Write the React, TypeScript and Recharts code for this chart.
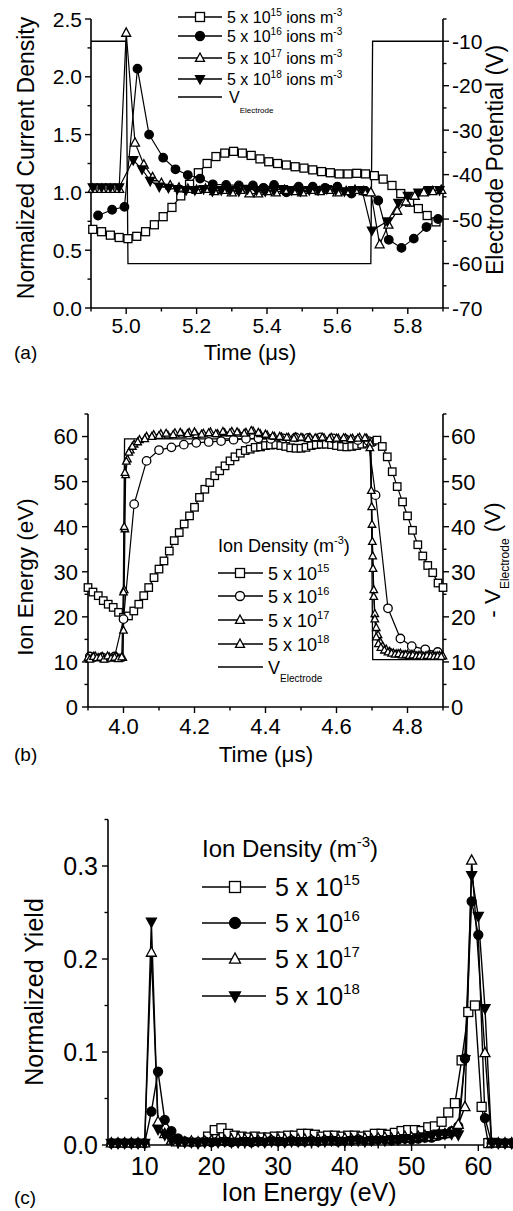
import React from "react";
import { ComposedChart, Line, XAxis, YAxis, Legend } from "recharts";

const FONT = "'Liberation Sans', Arial, Helvetica, sans-serif";

// ---------- panel (a): normalized current density vs time ----------
const tA15 = [4.905, 4.93, 4.955, 4.98, 5.005, 5.03, 5.055, 5.08, 5.105, 5.13, 5.155, 5.18, 5.205, 5.23, 5.255, 5.28, 5.305, 5.33, 5.355, 5.38, 5.405, 5.43, 5.455, 5.48, 5.505, 5.53, 5.555, 5.58, 5.605, 5.63, 5.655, 5.68, 5.705, 5.73, 5.755, 5.78, 5.805, 5.83, 5.855, 5.88];
const jA15 = [0.68, 0.66, 0.63, 0.61, 0.6, 0.62, 0.66, 0.72, 0.79, 0.87, 0.97, 1.07, 1.17, 1.25, 1.31, 1.34, 1.355, 1.34, 1.32, 1.29, 1.265, 1.25, 1.237, 1.222, 1.21, 1.195, 1.18, 1.17, 1.16, 1.16, 1.165, 1.16, 1.145, 1.115, 1.06, 0.99, 0.915, 0.86, 0.8, 0.745];

const tA16 = [4.92, 4.96, 4.995, 5.032, 5.065, 5.105, 5.14, 5.175, 5.21, 5.246, 5.284, 5.32, 5.36, 5.39, 5.42, 5.455, 5.49, 5.53, 5.565, 5.6, 5.64, 5.68, 5.716, 5.746, 5.782, 5.817, 5.853, 5.886];
const jA16 = [0.8, 0.85, 0.875, 2.07, 1.5, 1.3, 1.2, 1.15, 1.12, 1.07, 1.065, 1.06, 1.06, 1.04, 1.065, 1.0, 1.05, 1.05, 1.04, 1.05, 0.99, 1.01, 0.93, 0.59, 0.52, 0.6, 0.7, 0.77];

const tA17 = [4.905, 4.93, 4.955, 4.98, 5.0, 5.025, 5.05, 5.075, 5.1, 5.125, 5.15, 5.175, 5.2, 5.225, 5.25, 5.275, 5.3, 5.325, 5.35, 5.375, 5.4, 5.425, 5.45, 5.475, 5.5, 5.525, 5.55, 5.575, 5.6, 5.625, 5.65, 5.675, 5.695, 5.72, 5.745, 5.77, 5.795, 5.82, 5.845, 5.87, 5.895];
const jA17 = [1.03, 1.03, 1.03, 1.03, 2.38, 1.43, 1.24, 1.13, 1.08, 1.06, 1.04, 1.03, 1.02, 1.03, 1.01, 1.02, 1.0, 1.02, 0.99, 0.99, 1.01, 1.0, 1.02, 1.01, 1.0, 1.02, 1.01, 1.02, 1.0, 1.01, 1.02, 1.01, 1.0, 0.55, 0.72, 0.84, 0.92, 0.97, 1.0, 1.01, 1.02];

const tA18 = [4.905, 4.93, 4.955, 4.98, 5.02, 5.045, 5.068, 5.094, 5.12, 5.145, 5.17, 5.195, 5.22, 5.245, 5.27, 5.295, 5.32, 5.345, 5.37, 5.395, 5.42, 5.445, 5.47, 5.495, 5.52, 5.545, 5.57, 5.595, 5.62, 5.645, 5.67, 5.698, 5.742, 5.773, 5.8, 5.83, 5.86, 5.89];
const jA18 = [1.045, 1.045, 1.045, 1.045, 1.28, 1.2, 1.1, 1.05, 1.04, 1.03, 1.02, 1.02, 1.03, 1.01, 1.02, 1.02, 1.01, 1.03, 1.02, 1.01, 1.02, 1.03, 1.02, 1.01, 1.02, 1.02, 1.03, 1.02, 1.01, 1.02, 1.02, 0.67, 0.75, 0.91, 0.97, 1.0, 1.02, 1.02];

const tAV = [4.9, 5.0, 5.005, 5.695, 5.7, 5.9];
const vAV = [-10, -10, -60, -60, -10, -10];

const ticksAx = [4.9, 5.0, 5.1, 5.2, 5.3, 5.4, 5.5, 5.6, 5.7, 5.8, 5.9];
const majorAx = [5.0, 5.2, 5.4, 5.6, 5.8];
const ticksAl = [0, 0.25, 0.5, 0.75, 1.0, 1.25, 1.5, 1.75, 2.0, 2.25, 2.5];
const majorAl = [0, 0.5, 1.0, 1.5, 2.0, 2.5];
const ticksAr = [-70, -65, -60, -55, -50, -45, -40, -35, -30, -25, -20, -15, -10, -5];
const majorAr = [-70, -60, -50, -40, -30, -20, -10];

// ---------- panel (b): ion energy vs time ----------
const tB15 = [3.9, 3.914, 3.929, 3.943, 3.957, 3.971, 3.986, 4.0, 4.014, 4.029, 4.043, 4.057, 4.071, 4.086, 4.1, 4.114, 4.129, 4.143, 4.157, 4.171, 4.186, 4.2, 4.214, 4.229, 4.243, 4.257, 4.271, 4.286, 4.3, 4.314, 4.329, 4.343, 4.357, 4.371, 4.386, 4.4, 4.414, 4.429, 4.443, 4.457, 4.471, 4.486, 4.5, 4.514, 4.529, 4.543, 4.557, 4.571, 4.586, 4.6, 4.614, 4.629, 4.643, 4.657, 4.671, 4.686, 4.7, 4.714, 4.729, 4.743, 4.757, 4.771, 4.786, 4.8, 4.814, 4.829, 4.843, 4.857, 4.871, 4.886, 4.9];
const eB15 = [26.5, 25.5, 24.7, 23.6, 22.8, 22.1, 21.0, 19.9, 20.2, 21.3, 22.8, 24.7, 26.5, 28.7, 30.6, 32.4, 34.6, 36.9, 38.7, 40.6, 42.4, 44.3, 46.5, 48.3, 49.8, 51.3, 52.4, 53.5, 54.6, 55.5, 56.3, 56.9, 57.2, 57.6, 57.7, 58.0, 58.1, 58.2, 58.0, 57.8, 57.5, 57.4, 57.4, 57.6, 58.0, 58.2, 58.3, 58.3, 58.2, 58.0, 57.8, 57.7, 57.8, 58.0, 58.3, 58.5, 58.9, 59.2, 57.8, 55.5, 52.2, 48.9, 45.5, 42.4, 39.2, 36.0, 33.5, 31.4, 29.8, 27.5, 26.5];

const tB16 = [3.905, 3.94, 3.975, 4.0, 4.03, 4.065, 4.1, 4.135, 4.17, 4.205, 4.24, 4.275, 4.31, 4.345, 4.38, 4.415, 4.45, 4.485, 4.52, 4.555, 4.59, 4.625, 4.66, 4.69, 4.71, 4.745, 4.78, 4.812, 4.85, 4.885];
const eB16 = [11.2, 11.0, 11.2, 19.5, 45.0, 54.6, 57.0, 57.6, 58.2, 58.6, 58.8, 59.0, 59.3, 59.5, 59.6, 59.5, 59.6, 59.8, 59.7, 59.8, 59.6, 59.4, 59.2, 59.0, 47.0, 21.9, 15.2, 13.5, 12.8, 12.2];

const tB17 = [3.9, 3.91, 3.92, 3.93, 3.94, 3.95, 3.96, 3.97, 3.98, 3.99, 3.998, 4.0, 4.002, 4.004, 4.006, 4.011, 4.019, 4.03, 4.045, 4.065, 4.085, 4.105, 4.125, 4.145, 4.165, 4.185, 4.205, 4.225, 4.245, 4.265, 4.285, 4.305, 4.325, 4.345, 4.365, 4.385, 4.405, 4.425, 4.445, 4.465, 4.485, 4.505, 4.525, 4.545, 4.565, 4.585, 4.605, 4.625, 4.645, 4.665, 4.685, 4.695, 4.699, 4.701, 4.703, 4.705, 4.708, 4.712, 4.717, 4.723, 4.73, 4.74, 4.75, 4.76, 4.77, 4.78, 4.79, 4.8, 4.81, 4.82, 4.83, 4.84, 4.85, 4.86, 4.87, 4.88, 4.89, 4.9];
const eB17 = [11.0, 10.8, 11.3, 10.9, 11.2, 10.7, 11.1, 10.9, 11.2, 10.8, 11.0, 17.0, 26.0, 39.5, 51.5, 55.0, 57.0, 58.3, 59.3, 60.0, 60.4, 60.6, 60.3, 60.8, 60.5, 60.9, 60.4, 60.7, 61.0, 60.6, 60.8, 61.1, 60.7, 60.9, 61.2, 60.6, 60.3, 60.0, 59.9, 59.8, 59.9, 59.7, 59.8, 59.6, 59.7, 59.8, 59.6, 59.7, 59.6, 59.8, 59.6, 58.5, 44.4, 36.7, 30.7, 26.0, 20.7, 17.6, 16.0, 14.5, 13.5, 12.8, 12.3, 12.0, 11.8, 11.9, 11.6, 11.7, 11.5, 11.6, 11.4, 11.5, 11.3, 11.5, 11.4, 11.3, 11.4, 11.3];

const tB18 = [3.905, 3.915, 3.925, 3.935, 3.945, 3.955, 3.965, 3.975, 3.985, 3.995, 4.0, 4.002, 4.004, 4.008, 4.015, 4.025, 4.04, 4.06, 4.08, 4.1, 4.12, 4.14, 4.16, 4.18, 4.2, 4.22, 4.24, 4.26, 4.28, 4.3, 4.32, 4.34, 4.36, 4.38, 4.4, 4.42, 4.44, 4.46, 4.48, 4.5, 4.52, 4.54, 4.56, 4.58, 4.6, 4.62, 4.64, 4.66, 4.68, 4.694, 4.698, 4.7, 4.702, 4.705, 4.708, 4.712, 4.718, 4.725, 4.735, 4.745, 4.755, 4.765, 4.775, 4.785, 4.795, 4.805, 4.815, 4.825, 4.835, 4.845, 4.855, 4.865, 4.875, 4.885, 4.895];
const eB18 = [10.6, 11.2, 10.9, 11.0, 10.6, 11.3, 10.8, 11.0, 10.7, 11.1, 25.5, 40.0, 52.0, 54.5, 56.5, 57.8, 58.8, 59.5, 60.0, 60.2, 60.7, 60.4, 60.9, 60.6, 61.0, 60.5, 60.8, 60.6, 61.1, 60.8, 61.0, 60.7, 61.3, 60.9, 60.5, 60.1, 60.0, 59.8, 59.6, 59.8, 59.5, 59.7, 59.8, 59.5, 59.6, 59.7, 59.5, 59.6, 59.7, 57.5, 48.0, 40.5, 33.5, 24.5, 19.5, 15.5, 14.0, 13.2, 12.6, 12.2, 11.9, 11.7, 11.8, 11.5, 11.6, 11.4, 11.5, 11.3, 11.4, 11.2, 11.4, 11.3, 11.2, 11.3, 11.2];

const tBV = [3.9, 3.998, 4.003, 4.697, 4.702, 4.9];
const vBV = [10.5, 10.5, 59.5, 59.5, 10.5, 10.5];

const ticksBx = [3.9, 4.0, 4.1, 4.2, 4.3, 4.4, 4.5, 4.6, 4.7, 4.8, 4.9];
const majorBx = [4.0, 4.2, 4.4, 4.6, 4.8];
const ticksBy = [0, 5, 10, 15, 20, 25, 30, 35, 40, 45, 50, 55, 60, 65];
const majorBy = [0, 10, 20, 30, 40, 50, 60];

// ---------- panel (c): normalized yield vs ion energy ----------
const eC15 = [19.5, 20.5, 21.5, 22.5, 23.5, 24.5, 25.5, 26.5, 27.5, 28.5, 29.5, 30.5, 31.5, 32.5, 33.5, 34.5, 35.5, 36.5, 37.5, 38.5, 39.5, 40.5, 41.5, 42.5, 43.5, 44.5, 45.5, 46.5, 47.5, 48.5, 49.5, 50.5, 51.5, 52.5, 53.5, 54.5, 55.5, 56.5, 57.5, 58.5, 59.5, 60.5, 61.5];
const yC15 = [0.009, 0.016, 0.018, 0.012, 0.01, 0.009, 0.008, 0.009, 0.008, 0.008, 0.009, 0.009, 0.01, 0.01, 0.012, 0.012, 0.011, 0.009, 0.01, 0.01, 0.009, 0.01, 0.01, 0.009, 0.01, 0.012, 0.012, 0.011, 0.013, 0.015, 0.016, 0.016, 0.015, 0.019, 0.02, 0.025, 0.035, 0.045, 0.091, 0.143, 0.15, 0.041, 0.002];

const eC16 = [5, 6, 7, 8, 9, 10, 11, 12, 13, 14, 15, 16, 17, 18, 19, 20, 21, 22, 23, 24, 25, 26, 27, 28, 29, 30, 31, 32, 33, 34, 35, 36, 37, 38, 39, 40, 41, 42, 43, 44, 45, 46, 47, 48, 49, 50, 51, 52, 53, 54, 55, 56, 57, 58, 59, 60, 61, 62, 63, 64, 65];
const yC16 = [0.002, 0.002, 0.002, 0.002, 0.002, 0.002, 0.036, 0.079, 0.027, 0.015, 0.007,
  0.004, 0.003, 0.003, 0.004, 0.003, 0.004, 0.004, 0.003, 0.004, 0.004,
  0.003, 0.004, 0.004, 0.005, 0.004, 0.004, 0.005, 0.004, 0.004, 0.005,
  0.004, 0.005, 0.005, 0.004, 0.005, 0.005, 0.006, 0.005, 0.005, 0.006,
  0.006, 0.005, 0.006, 0.007, 0.006, 0.007, 0.008, 0.008, 0.01, 0.012,
  0.015, 0.02, 0.093, 0.262, 0.226, 0.029, 0.002, 0.002, 0.002, 0.002];

const eC17 = [5, 6, 7, 8, 9, 10, 11, 12, 13, 14, 15, 16, 17, 18, 19, 20, 21, 22, 23, 24, 25, 26, 27, 28, 29, 30, 31, 32, 33, 34, 35, 36, 37, 38, 39, 40, 41, 42, 43, 44, 45, 46, 47, 48, 49, 50, 51, 52, 53, 54, 55, 56, 57, 58, 59, 61, 62, 63, 64, 65];
const yC17 = [0.002, 0.002, 0.002, 0.002, 0.002, 0.002, 0.207, 0.025, 0.012, 0.005, 0.003,
  0.003, 0.004, 0.003, 0.004, 0.005, 0.006, 0.005, 0.006, 0.007, 0.006,
  0.006, 0.005, 0.006, 0.005, 0.006, 0.006, 0.005, 0.006, 0.006, 0.005,
  0.006, 0.005, 0.006, 0.006, 0.007, 0.006, 0.006, 0.007, 0.006, 0.007,
  0.008, 0.007, 0.008, 0.009, 0.008, 0.009, 0.01, 0.009, 0.011, 0.012,
  0.014, 0.022, 0.041, 0.306, 0.099, 0.002, 0.002, 0.002, 0.002];

const eC18 = [5, 6, 7, 8, 9, 10, 11, 12, 13, 14, 15, 16, 17, 18, 19, 20, 21, 22, 23, 24, 25, 26, 27, 28, 29, 30, 31, 32, 33, 34, 35, 36, 37, 38, 39, 40, 41, 42, 43, 44, 45, 46, 47, 48, 49, 50, 51, 52, 53, 54, 55, 56, 57, 58, 59, 60, 61, 62, 63, 64, 65];
const yC18 = [0.002, 0.002, 0.002, 0.002, 0.002, 0.002, 0.24, 0.017, 0.011, 0.005, 0.003,
  0.003, 0.003, 0.002, 0.003, 0.003, 0.003, 0.004, 0.003, 0.003, 0.004,
  0.003, 0.004, 0.003, 0.004, 0.004, 0.003, 0.004, 0.004, 0.004, 0.004,
  0.004, 0.004, 0.005, 0.004, 0.004, 0.005, 0.005, 0.004, 0.005, 0.005,
  0.005, 0.006, 0.006, 0.007, 0.006, 0.008, 0.009, 0.01, 0.012, 0.012,
  0.012, 0.011, 0.092, 0.29, 0.246, 0.147, 0.003, 0.002, 0.002, 0.002, 0.002];

const ticksCx = [5, 10, 15, 20, 25, 30, 35, 40, 45, 50, 55, 60, 65];
const majorCx = [10, 20, 30, 40, 50, 60];
const ticksCy = [0, 0.05, 0.1, 0.15, 0.2, 0.25, 0.3, 0.35];
const majorCy = [0, 0.1, 0.2, 0.3];

const exps = ["15", "16", "17", "18"];

const toPts = (xs: number[], ys: number[]) => xs.map((x, i) => ({ x, y: ys[i] }));

type Mk = "square" | "circle" | "up" | "down";

const Marker = ({ kind, cx, cy, size, filled }: { kind: Mk; cx: number; cy: number; size: number; filled: boolean }) => {
  const paint = { fill: filled ? "#000" : "#fff", stroke: "#000", strokeWidth: 1.3 };
  const h = size / 2;
  if (kind === "square") return <rect x={cx - h} y={cy - h} width={size} height={size} {...paint} />;
  if (kind === "circle") return <circle cx={cx} cy={cy} r={h} {...paint} />;
  if (kind === "up")
    return <polygon points={`${cx},${cy - h * 1.1} ${cx - h},${cy + h * 0.75} ${cx + h},${cy + h * 0.75}`} {...paint} />;
  return <polygon points={`${cx},${cy + h * 1.1} ${cx - h},${cy - h * 0.75} ${cx + h},${cy - h * 0.75}`} {...paint} />;
};

const dotOf = (kind: Mk, size: number, filled: boolean) => (p: any) => (
  <Marker key={`m-${p.index}`} kind={kind} cx={p.cx} cy={p.cy} size={size} filled={filled} />
);

const axisTick = (side: "bottom" | "left" | "right", majors: number[], digits: number, fontSize: number, gap: number) =>
  (props: any) => {
    const { x, y, payload } = props;
    const v = payload.value as number;
    const major = majors.some((m) => Math.abs(m - v) < 1e-6);
    const len = major ? 6 : 3.5;
    const label = v.toFixed(digits);
    if (side === "bottom") {
      return (
        <g>
          <line x1={x} x2={x} y1={y} y2={y + len} stroke="#000" strokeWidth={1.4} />
          {major && (
            <text x={x} y={y + gap} textAnchor="middle" fontSize={fontSize} fontFamily={FONT} fill="#000">
              {label}
            </text>
          )}
        </g>
      );
    }
    const dir = side === "left" ? -1 : 1;
    return (
      <g>
        <line x1={x} x2={x + dir * len} y1={y} y2={y} stroke="#000" strokeWidth={1.4} />
        {major && (
          <text x={x + dir * gap} y={y} dy="0.36em" textAnchor={side === "left" ? "end" : "start"} fontSize={fontSize} fontFamily={FONT} fill="#000">
            {label}
          </text>
        )}
      </g>
    );
  };

const vTitle = (x: number, y: number, size: number, body: React.ReactNode) => () => (
  <text x={x} y={y} transform={`rotate(-90 ${x} ${y})`} textAnchor="middle" fontSize={size} fontFamily={FONT} fill="#000">
    {body}
  </text>
);

const hTitle = (x: number, y: number, size: number, body: React.ReactNode) => () => (
  <text x={x} y={y} textAnchor="middle" fontSize={size} fontFamily={FONT} fill="#000">
    {body}
  </text>
);

const axisLine = { stroke: "#000", strokeWidth: 1.6 };
const lineStyle = { stroke: "#000", strokeWidth: 1.2, activeDot: false, isAnimationActive: false, legendType: "none" as const };

// legend rows drawn in chart coordinates
const LegendA = () => {
  const rows = [17, 36, 58, 79];
  const kinds: Mk[] = ["square", "circle", "up", "down"];
  const filled = [false, true, false, true];
  return (
    <svg width={513} height={370} style={{ display: "block" }}>
      {rows.map((ry, i) => (
        <g key={i}>
          <line x1={178} x2={222} y1={ry} y2={ry} stroke="#000" strokeWidth={1.3} />
          <Marker kind={kinds[i]} cx={200} cy={ry} size={9} filled={filled[i]} />
          <text x={227} y={ry + 6} fontSize={16} fontFamily={FONT}>
            5 x 10<tspan dy={-7} fontSize={10}>{exps[i]}</tspan>
            <tspan dy={7}> ions m</tspan>
            <tspan dy={-7} fontSize={10}>-3</tspan>
          </text>
        </g>
      ))}
      <line x1={178} x2={222} y1={97} y2={97} stroke="#000" strokeWidth={1.3} />
      <text x={229} y={103} fontSize={16} fontFamily={FONT}>
        V<tspan dy={10} fontSize={8}>Electrode</tspan>
      </text>
      <text x={14} y={359} fontSize={19} fontFamily={FONT}>(a)</text>
    </svg>
  );
};

const LegendB = () => {
  const rows = [173, 196, 220, 244];
  const kinds: Mk[] = ["square", "circle", "up", "up"];
  return (
    <svg width={513} height={375} style={{ display: "block" }}>
      <text x={218} y={152} fontSize={18} fontFamily={FONT}>
        Ion Density (m<tspan dy={-8} fontSize={11}>-3</tspan>
        <tspan dy={8}>)</tspan>
      </text>
      {rows.map((ry, i) => (
        <g key={i}>
          <line x1={218} x2={263} y1={ry} y2={ry} stroke="#000" strokeWidth={1.3} />
          <Marker kind={kinds[i]} cx={240} cy={ry} size={9} filled={false} />
          <text x={268} y={ry + 7} fontSize={18} fontFamily={FONT}>
            5 x 10<tspan dy={-8} fontSize={11}>{exps[i]}</tspan>
          </text>
        </g>
      ))}
      <line x1={218} x2={263} y1={267} y2={267} stroke="#000" strokeWidth={1.3} />
      <text x={268} y={274} fontSize={18} fontFamily={FONT}>
        V<tspan dy={8} fontSize={10}>Electrode</tspan>
      </text>
      <text x={14} y={361} fontSize={19} fontFamily={FONT}>(b)</text>
    </svg>
  );
};

const LegendC = () => {
  const rows = [87, 123, 159, 196];
  const kinds: Mk[] = ["square", "circle", "up", "down"];
  const filled = [false, true, false, true];
  return (
    <svg width={513} height={411} style={{ display: "block" }}>
      <text x={202} y={57} fontSize={24} fontFamily={FONT}>
        Ion Density (m<tspan dy={-10} fontSize={15}>-3</tspan>
        <tspan dy={10}>)</tspan>
      </text>
      {rows.map((ry, i) => (
        <g key={i}>
          <line x1={202} x2={266} y1={ry} y2={ry} stroke="#000" strokeWidth={1.4} />
          <Marker kind={kinds[i]} cx={235} cy={ry} size={11} filled={filled[i]} />
          <text x={275} y={ry + 9} fontSize={25} fontFamily={FONT}>
            5 x 10<tspan dy={-11} fontSize={15}>{exps[i]}</tspan>
          </text>
        </g>
      ))}
      <text x={14} y={404} fontSize={19} fontFamily={FONT}>(c)</text>
    </svg>
  );
};

const legendProps = (h: number) => ({
  layout: "vertical" as const,
  align: "center" as const,
  verticalAlign: "middle" as const,
  wrapperStyle: { left: 0, top: 0, width: 513, height: h, pointerEvents: "none" as const },
});

const PanelA = () => (
  <ComposedChart width={513} height={370} margin={{ top: 19, right: 0, bottom: 0, left: 0 }}>
    <XAxis xAxisId="x" dataKey="x" type="number" domain={[4.9, 5.9]} ticks={ticksAx} interval={0} height={62}
      axisLine={axisLine} tickLine={false} tickSize={0} tickMargin={0} tick={axisTick("bottom", majorAx, 1, 21, 25)}
      label={hTitle(250, 360, 22, "Time (\u03bcs)")} />
    <YAxis yAxisId="l" type="number" domain={[0, 2.5]} ticks={ticksAl} interval={0} width={91}
      axisLine={axisLine} tickLine={false} tickSize={0} tickMargin={0} tick={axisTick("left", majorAl, 1, 21, 9)}
      label={vTitle(34, 158, 23, "Normalized Current Density")} />
    <YAxis yAxisId="r" orientation="right" type="number" domain={[-70, -5]} ticks={ticksAr} interval={0} width={70}
      axisLine={axisLine} tickLine={false} tickSize={0} tickMargin={0} tick={axisTick("right", majorAr, 0, 21, 9)}
      label={vTitle(503, 160, 23, "Electrode Potential (V)")} />
    <Line xAxisId="x" yAxisId="r" data={toPts(tAV, vAV)} dataKey="y" dot={false} {...lineStyle} strokeWidth={1.3} />
    <Line xAxisId="x" yAxisId="l" data={toPts(tA15, jA15)} dataKey="y" dot={dotOf("square", 8, false)} {...lineStyle} />
    <Line xAxisId="x" yAxisId="l" data={toPts(tA16, jA16)} dataKey="y" dot={dotOf("circle", 8.5, true)} {...lineStyle} />
    <Line xAxisId="x" yAxisId="l" data={toPts(tA17, jA17)} dataKey="y" dot={dotOf("up", 9, false)} {...lineStyle} />
    <Line xAxisId="x" yAxisId="l" data={toPts(tA18, jA18)} dataKey="y" dot={dotOf("down", 9, true)} {...lineStyle} />
    <Legend {...legendProps(370)} content={() => <LegendA />} />
  </ComposedChart>
);

const PanelB = () => (
  <ComposedChart width={513} height={375} margin={{ top: 14, right: 0, bottom: 0, left: 0 }}>
    <XAxis xAxisId="x" dataKey="x" type="number" domain={[3.9, 4.9]} ticks={ticksBx} interval={0} height={68}
      axisLine={axisLine} tickLine={false} tickSize={0} tickMargin={0} tick={axisTick("bottom", majorBx, 1, 22, 27)}
      label={hTitle(266, 362, 22.5, "Time (\u03bcs)")} />
    <YAxis yAxisId="l" type="number" domain={[0, 65]} ticks={ticksBy} interval={0} width={88}
      axisLine={axisLine} tickLine={false} tickSize={0} tickMargin={0} tick={axisTick("left", majorBy, 0, 22, 10)}
      label={vTitle(33, 177, 22.5, "Ion Energy (eV)")} />
    <YAxis yAxisId="r" orientation="right" type="number" domain={[0, 65]} ticks={ticksBy} interval={0} width={70}
      axisLine={axisLine} tickLine={false} tickSize={0} tickMargin={0} tick={axisTick("right", majorBy, 0, 22, 8)}
      label={vTitle(500, 160, 22.5, <>- V<tspan dy={9} fontSize={12}>Electrode</tspan><tspan dy={-9}> (V)</tspan></>)} />
    <Line xAxisId="x" yAxisId="r" data={toPts(tBV, vBV)} dataKey="y" dot={false} {...lineStyle} strokeWidth={1.3} />
    <Line xAxisId="x" yAxisId="l" data={toPts(tB15, eB15)} dataKey="y" dot={dotOf("square", 7.5, false)} {...lineStyle} />
    <Line xAxisId="x" yAxisId="l" data={toPts(tB16, eB16)} dataKey="y" dot={dotOf("circle", 8.5, false)} {...lineStyle} />
    <Line xAxisId="x" yAxisId="l" data={toPts(tB17, eB17)} dataKey="y" dot={dotOf("up", 7.5, false)} {...lineStyle} />
    <Line xAxisId="x" yAxisId="l" data={toPts(tB18, eB18)} dataKey="y" dot={dotOf("up", 7.5, false)} {...lineStyle} />
    <Legend {...legendProps(375)} content={() => <LegendB />} />
  </ComposedChart>
);

const PanelC = () => (
  <ComposedChart width={513} height={411} margin={{ top: 19.5, right: 0, bottom: 0, left: 0 }}>
    <XAxis xAxisId="x" dataKey="x" type="number" domain={[4.5, 65.2]} ticks={ticksCx} interval={0} height={66}
      axisLine={axisLine} tickLine={false} tickSize={0} tickMargin={0} tick={axisTick("bottom", majorCx, 0, 25, 30)}
      label={hTitle(309, 401, 25, "Ion Energy (eV)")} />
    <YAxis yAxisId="l" type="number" domain={[0, 0.35]} ticks={ticksCy} interval={0} width={108}
      axisLine={axisLine} tickLine={false} tickSize={0} tickMargin={0} tick={axisTick("left", majorCy, 1, 25, 10)}
      label={vTitle(43, 192, 25, "Normalized Yield")} />
    <Line xAxisId="x" yAxisId="l" data={toPts(eC15, yC15)} dataKey="y" dot={dotOf("square", 9, false)} {...lineStyle} strokeWidth={1.4} />
    <Line xAxisId="x" yAxisId="l" data={toPts(eC16, yC16)} dataKey="y" dot={dotOf("circle", 9, true)} {...lineStyle} strokeWidth={1.4} />
    <Line xAxisId="x" yAxisId="l" data={toPts(eC17, yC17)} dataKey="y" dot={dotOf("up", 10, false)} {...lineStyle} strokeWidth={1.4} />
    <Line xAxisId="x" yAxisId="l" data={toPts(eC18, yC18)} dataKey="y" dot={dotOf("down", 10, true)} {...lineStyle} strokeWidth={1.4} />
    <Legend {...legendProps(411)} content={() => <LegendC />} />
  </ComposedChart>
);

export default function App() {
  return (
    <div style={{ position: "absolute", left: 0, top: 0, width: 513, height: 1211, overflow: "hidden", background: "#fff" }}>
      <div style={{ position: "absolute", left: 0, top: 0 }}>
        <PanelA />
      </div>
      <div style={{ position: "absolute", left: 0, top: 400 }}>
        <PanelB />
      </div>
      <div style={{ position: "absolute", left: 0, top: 800 }}>
        <PanelC />
      </div>
    </div>
  );
}
